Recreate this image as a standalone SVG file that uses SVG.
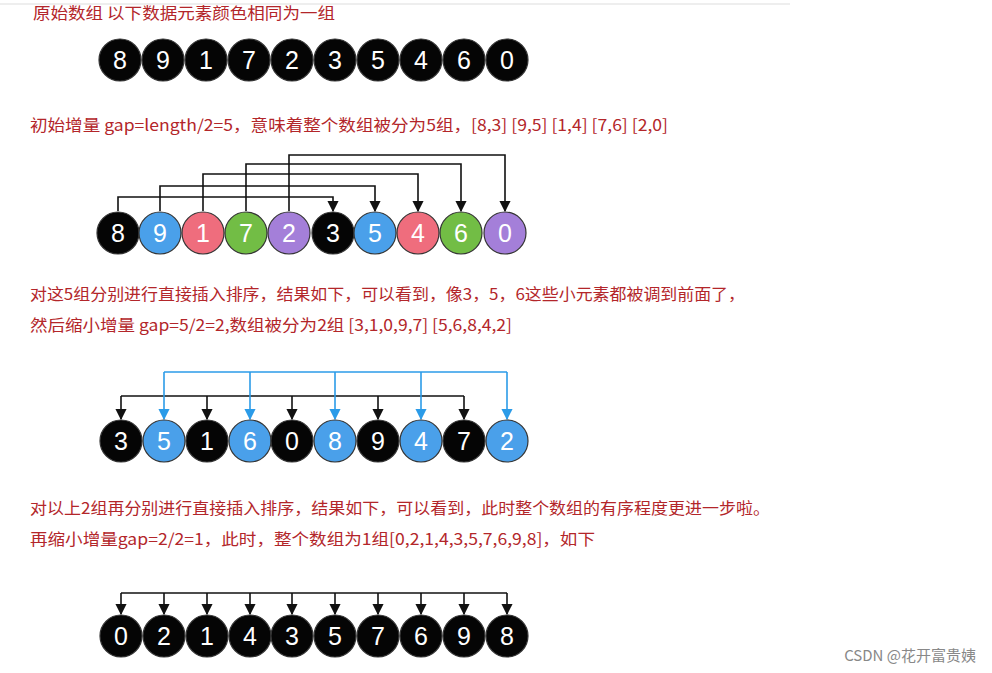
<svg xmlns="http://www.w3.org/2000/svg" width="992" height="673" viewBox="0 0 992 673">
<defs>
<marker id="ab" viewBox="0 0 10 10" refX="9" refY="5" markerWidth="7" markerHeight="7" orient="auto"><path d="M0,0 L10,5 L0,10 z" fill="#111"/></marker>
<marker id="abl" viewBox="0 0 10 10" refX="9" refY="5" markerWidth="7" markerHeight="7" orient="auto"><path d="M0,0 L10,5 L0,10 z" fill="#2b9be8"/></marker>
</defs>
<style>
.t{font-family:"Noto Sans CJK SC","Liberation Sans",sans-serif;font-size:16px;fill:#b3262a}
.n{font-family:"Liberation Sans",sans-serif;font-size:25px;fill:#fff;text-anchor:middle;dominant-baseline:central}
circle{stroke:#333;stroke-width:1.2}
.k{fill:#050505}.b{fill:#4aa0ea}.p{fill:#ef6d7d}.g{fill:#72bd45}.v{fill:#a47fd9}
.c{fill:none;stroke:#111;stroke-width:1.6}
.cb{fill:none;stroke:#2b9be8;stroke-width:1.6}
</style>
<rect width="992" height="673" fill="#fff"/>
<line x1="0" y1="4" x2="790" y2="4" stroke="#ddd"/>
<text class="t" x="33" y="19" textLength="302" lengthAdjust="spacingAndGlyphs">原始数组  以下数据元素颜色相同为一组</text>
<text class="t" x="30" y="131" textLength="638" lengthAdjust="spacingAndGlyphs">初始增量 gap=length/2=5，意味着整个数组被分为5组，[8,3] [9,5] [1,4] [7,6] [2,0]</text>
<text class="t" x="30" y="300" textLength="715" lengthAdjust="spacingAndGlyphs">对这5组分别进行直接插入排序，结果如下，可以看到，像3，5，6这些小元素都被调到前面了，</text>
<text class="t" x="30" y="331" textLength="482" lengthAdjust="spacingAndGlyphs">然后缩小增量 gap=5/2=2,数组被分为2组 [3,1,0,9,7] [5,6,8,4,2]</text>
<text class="t" x="30" y="514" textLength="740" lengthAdjust="spacingAndGlyphs">对以上2组再分别进行直接插入排序，结果如下，可以看到，此时整个数组的有序程度更进一步啦。</text>
<text class="t" x="30" y="545" textLength="565" lengthAdjust="spacingAndGlyphs">再缩小增量gap=2/2=1，此时，整个数组为1组[0,2,1,4,3,5,7,6,9,8]，如下</text>
<text x="976" y="661" text-anchor="end" font-family="Noto Sans CJK SC, Liberation Sans, sans-serif" font-size="15" fill="#888">CSDN @花开富贵姨</text>

<g id="connectors">
<path class="c" d="M118,211 V197 H333 V211" marker-end="url(#ab)"/>
<path class="c" d="M160,211 V186 H375 V211" marker-end="url(#ab)"/>
<path class="c" d="M203,211 V174 H418 V211" marker-end="url(#ab)"/>
<path class="c" d="M246,211 V164 H461 V211" marker-end="url(#ab)"/>
<path class="c" d="M289,211 V155 H505 V211" marker-end="url(#ab)"/>
<path class="c" d="M121,396 H464"/>
<line class="c" x1="121" y1="396" x2="121" y2="419" marker-end="url(#ab)"/>
<line class="c" x1="207" y1="396" x2="207" y2="419" marker-end="url(#ab)"/>
<line class="c" x1="292" y1="396" x2="292" y2="419" marker-end="url(#ab)"/>
<line class="c" x1="378" y1="396" x2="378" y2="419" marker-end="url(#ab)"/>
<line class="c" x1="464" y1="396" x2="464" y2="419" marker-end="url(#ab)"/>
<path class="cb" d="M164,372 H507"/>
<line class="cb" x1="164" y1="372" x2="164" y2="419" marker-end="url(#abl)"/>
<line class="cb" x1="250" y1="372" x2="250" y2="419" marker-end="url(#abl)"/>
<line class="cb" x1="335" y1="372" x2="335" y2="419" marker-end="url(#abl)"/>
<line class="cb" x1="421" y1="372" x2="421" y2="419" marker-end="url(#abl)"/>
<line class="cb" x1="507" y1="372" x2="507" y2="419" marker-end="url(#abl)"/>
<path class="c" d="M121,593 H507"/>
<line class="c" x1="121" y1="593" x2="121" y2="614" marker-end="url(#ab)"/>
<line class="c" x1="164" y1="593" x2="164" y2="614" marker-end="url(#ab)"/>
<line class="c" x1="207" y1="593" x2="207" y2="614" marker-end="url(#ab)"/>
<line class="c" x1="250" y1="593" x2="250" y2="614" marker-end="url(#ab)"/>
<line class="c" x1="292" y1="593" x2="292" y2="614" marker-end="url(#ab)"/>
<line class="c" x1="335" y1="593" x2="335" y2="614" marker-end="url(#ab)"/>
<line class="c" x1="378" y1="593" x2="378" y2="614" marker-end="url(#ab)"/>
<line class="c" x1="421" y1="593" x2="421" y2="614" marker-end="url(#ab)"/>
<line class="c" x1="464" y1="593" x2="464" y2="614" marker-end="url(#ab)"/>
<line class="c" x1="507" y1="593" x2="507" y2="614" marker-end="url(#ab)"/>
</g>

<g id="row1">
<g id="r1n0"><circle class="k" cx="120" cy="60" r="21"/><text class="n" x="120" y="60">8</text></g>
<g id="r1n1"><circle class="k" cx="163" cy="60" r="21"/><text class="n" x="163" y="60">9</text></g>
<g id="r1n2"><circle class="k" cx="206" cy="60" r="21"/><text class="n" x="206" y="60">1</text></g>
<g id="r1n3"><circle class="k" cx="249" cy="60" r="21"/><text class="n" x="249" y="60">7</text></g>
<g id="r1n4"><circle class="k" cx="292" cy="60" r="21"/><text class="n" x="292" y="60">2</text></g>
<g id="r1n5"><circle class="k" cx="335" cy="60" r="21"/><text class="n" x="335" y="60">3</text></g>
<g id="r1n6"><circle class="k" cx="378" cy="60" r="21"/><text class="n" x="378" y="60">5</text></g>
<g id="r1n7"><circle class="k" cx="421" cy="60" r="21"/><text class="n" x="421" y="60">4</text></g>
<g id="r1n8"><circle class="k" cx="464" cy="60" r="21"/><text class="n" x="464" y="60">6</text></g>
<g id="r1n9"><circle class="k" cx="507" cy="60" r="21"/><text class="n" x="507" y="60">0</text></g>
</g>
<g id="row2">
<g id="r2n0"><circle class="k" cx="118" cy="233" r="21"/><text class="n" x="118" y="233">8</text></g>
<g id="r2n1"><circle class="b" cx="160" cy="233" r="21"/><text class="n" x="160" y="233">9</text></g>
<g id="r2n2"><circle class="p" cx="203" cy="233" r="21"/><text class="n" x="203" y="233">1</text></g>
<g id="r2n3"><circle class="g" cx="246" cy="233" r="21"/><text class="n" x="246" y="233">7</text></g>
<g id="r2n4"><circle class="v" cx="289" cy="233" r="21"/><text class="n" x="289" y="233">2</text></g>
<g id="r2n5"><circle class="k" cx="333" cy="233" r="21"/><text class="n" x="333" y="233">3</text></g>
<g id="r2n6"><circle class="b" cx="375" cy="233" r="21"/><text class="n" x="375" y="233">5</text></g>
<g id="r2n7"><circle class="p" cx="418" cy="233" r="21"/><text class="n" x="418" y="233">4</text></g>
<g id="r2n8"><circle class="g" cx="461" cy="233" r="21"/><text class="n" x="461" y="233">6</text></g>
<g id="r2n9"><circle class="v" cx="505" cy="233" r="21"/><text class="n" x="505" y="233">0</text></g>
</g>
<g id="row3">
<g id="r3n0"><circle class="k" cx="121" cy="441" r="21"/><text class="n" x="121" y="441">3</text></g>
<g id="r3n1"><circle class="b" cx="164" cy="441" r="21"/><text class="n" x="164" y="441">5</text></g>
<g id="r3n2"><circle class="k" cx="207" cy="441" r="21"/><text class="n" x="207" y="441">1</text></g>
<g id="r3n3"><circle class="b" cx="250" cy="441" r="21"/><text class="n" x="250" y="441">6</text></g>
<g id="r3n4"><circle class="k" cx="292" cy="441" r="21"/><text class="n" x="292" y="441">0</text></g>
<g id="r3n5"><circle class="b" cx="335" cy="441" r="21"/><text class="n" x="335" y="441">8</text></g>
<g id="r3n6"><circle class="k" cx="378" cy="441" r="21"/><text class="n" x="378" y="441">9</text></g>
<g id="r3n7"><circle class="b" cx="421" cy="441" r="21"/><text class="n" x="421" y="441">4</text></g>
<g id="r3n8"><circle class="k" cx="464" cy="441" r="21"/><text class="n" x="464" y="441">7</text></g>
<g id="r3n9"><circle class="b" cx="507" cy="441" r="21"/><text class="n" x="507" y="441">2</text></g>
</g>
<g id="row4">
<g id="r4n0"><circle class="k" cx="121" cy="636" r="21"/><text class="n" x="121" y="636">0</text></g>
<g id="r4n1"><circle class="k" cx="164" cy="636" r="21"/><text class="n" x="164" y="636">2</text></g>
<g id="r4n2"><circle class="k" cx="207" cy="636" r="21"/><text class="n" x="207" y="636">1</text></g>
<g id="r4n3"><circle class="k" cx="250" cy="636" r="21"/><text class="n" x="250" y="636">4</text></g>
<g id="r4n4"><circle class="k" cx="292" cy="636" r="21"/><text class="n" x="292" y="636">3</text></g>
<g id="r4n5"><circle class="k" cx="335" cy="636" r="21"/><text class="n" x="335" y="636">5</text></g>
<g id="r4n6"><circle class="k" cx="378" cy="636" r="21"/><text class="n" x="378" y="636">7</text></g>
<g id="r4n7"><circle class="k" cx="421" cy="636" r="21"/><text class="n" x="421" y="636">6</text></g>
<g id="r4n8"><circle class="k" cx="464" cy="636" r="21"/><text class="n" x="464" y="636">9</text></g>
<g id="r4n9"><circle class="k" cx="507" cy="636" r="21"/><text class="n" x="507" y="636">8</text></g>
</g>
</svg>
